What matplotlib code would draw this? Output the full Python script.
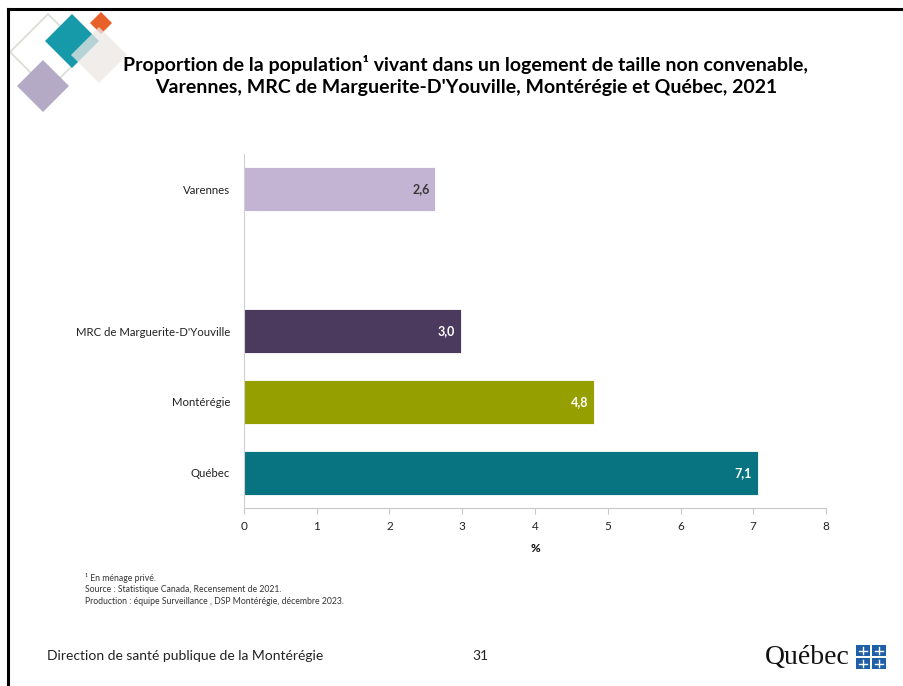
import matplotlib
matplotlib.use("Agg")
import matplotlib.pyplot as plt
from matplotlib.patches import Polygon, Rectangle
from matplotlib.lines import Line2D

plt.rcParams['font.family'] = ['Lato', 'DejaVu Sans']

# data
categories = ['Varennes', '', 'MRC de Marguerite-D\'Youville', 'Montérégie', 'Québec']
values = [2.63, None, 2.98, 4.81, 7.06]
colors = ['#c3b4d3', None, '#4b3a5e', '#95a000', '#087482']
label_colors = ['#3a3a3a', None, 'white', 'white', 'white']
xticks = [0, 1, 2, 3, 4, 5, 6, 7, 8]

W, H = 904, 686
fig = plt.figure(figsize=(W / 100, H / 100), dpi=100)


def fx(px):
    return px / W


def fy(py):
    return 1 - py / H


def diamond(cx, cy, r, **kw):
    pts = [(fx(cx), fy(cy - r)), (fx(cx + r), fy(cy)), (fx(cx), fy(cy + r)), (fx(cx - r), fy(cy))]
    fig.patches.append(Polygon(pts, closed=True, transform=fig.transFigure, **kw))


# slide frame
fig.add_artist(Line2D([fx(8), fx(8)], [fy(9), 0], color='black', lw=2.2, transform=fig.transFigure))
fig.add_artist(Line2D([fx(8), 1], [fy(9), fy(9)], color='black', lw=2.2, transform=fig.transFigure))

# decoration in the corner
diamond(48, 52, 38, facecolor='none', edgecolor='#d8ddd2', lw=1.2)
diamond(43, 86, 26, facecolor='#b4aac6', edgecolor='none')
diamond(72, 41, 27, facecolor='#1699a8', edgecolor='none')
diamond(101, 23, 11, facecolor='#e8602a', edgecolor='none')
diamond(99, 55, 28, facecolor='#ebe8e5', edgecolor='none', alpha=0.75)

# title
fig.text(fx(466), fy(64), 'Proportion de la population¹ vivant dans un logement de taille non convenable,',
         ha='center', va='center', fontsize=14, fontweight='bold', color='black')
fig.text(fx(466), fy(88), 'Varennes, MRC de Marguerite-D\'Youville, Montérégie et Québec, 2021',
         ha='center', va='center', fontsize=14, fontweight='bold', color='black')

ax = fig.add_axes([fx(244), fy(508), fx(826) - fx(244), fy(154) - fy(508)])
for i, (v, c) in enumerate(zip(values, colors)):
    if v is None:
        continue
    ax.barh(i, v, height=0.62, color=c, edgecolor='white', linewidth=0.6)
    ax.text(v - 0.08, i, f'{v:.1f}'.replace('.', ','), ha='right', va='center',
            fontsize=9, fontweight='bold', color=label_colors[i])

ax.set_ylim(4.5, -0.5)
ax.set_xlim(0, 8)
ax.set_yticks(range(len(categories)))
ax.set_yticklabels(categories, fontsize=8.2, color='#222222')
ax.tick_params(axis='y', length=0, pad=10)
ax.set_xticks(xticks)
ax.tick_params(axis='x', length=4, color='#c8c8c8', labelsize=8.5, labelcolor='#222222', pad=5)
ax.set_xlabel('%', fontsize=8.5, fontweight='bold', labelpad=8)
for s in ['top', 'right']:
    ax.spines[s].set_visible(False)
ax.spines['left'].set_color('#cfcfcf')
ax.spines['bottom'].set_color('#c8c8c8')

# notes
fig.text(fx(85), fy(578), '¹ En ménage privé.', fontsize=6.2, va='center', color='#333333')
fig.text(fx(85), fy(590), 'Source : Statistique Canada, Recensement de 2021.', fontsize=6.2, va='center', color='#333333')
fig.text(fx(85), fy(602), 'Production : équipe Surveillance , DSP Montérégie, décembre 2023.', fontsize=6.2,
         va='center', color='#333333')

# footer
fig.text(fx(47), fy(656), 'Direction de santé publique de la Montérégie', fontsize=10, va='center', color='#222222')
fig.text(fx(480), fy(656), '31', fontsize=10, va='center', ha='center', color='#222222')
fig.text(fx(850), fy(657), 'Québec', fontsize=20, va='center', ha='right', color='#111111',
         family='Liberation Serif')
for ox in [856, 872]:
    for oy in [645, 658]:
        fig.patches.append(Rectangle((fx(ox), fy(oy + 11)), fx(14), 11 / H, transform=fig.transFigure,
                                     facecolor='#1f5fa8', edgecolor='none'))
        fig.add_artist(Line2D([fx(ox + 7), fx(ox + 7)], [fy(oy + 2), fy(oy + 9)], color='white', lw=1,
                              transform=fig.transFigure))
        fig.add_artist(Line2D([fx(ox + 3), fx(ox + 11)], [fy(oy + 5.5), fy(oy + 5.5)], color='white', lw=1,
                              transform=fig.transFigure))

fig.savefig('out.png', dpi=100)
